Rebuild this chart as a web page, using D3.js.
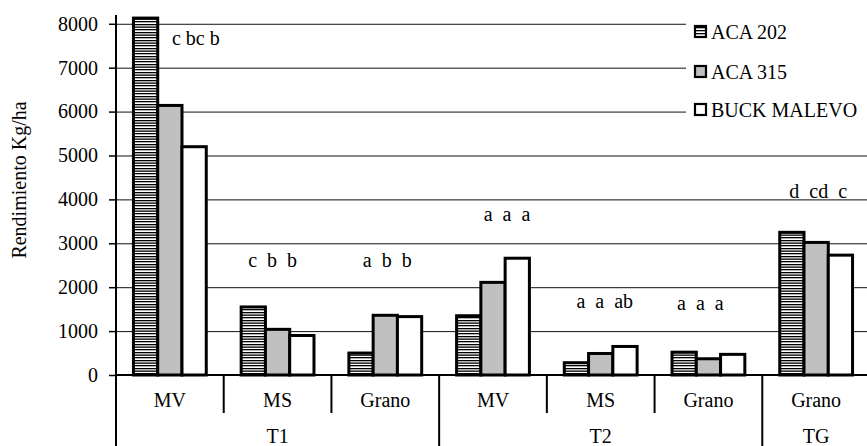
<!DOCTYPE html>
<html>
<head>
<meta charset="utf-8">
<script src="https://cdn.jsdelivr.net/npm/d3@7"></script>
<style>
  html, body { margin: 0; padding: 0; background: #fff; }
  svg { display: block; }
  svg text { font-family: "Liberation Serif", "Times New Roman", serif !important; white-space: pre; fill: #000; }
</style>
</head>
<body>
<svg id="chart" width="867" height="446"></svg>
<script>
// ---- data ----
const categories = ["MV", "MS", "Grano", "MV", "MS", "Grano", "Grano"];
const groups = ["T1", "T2", "TG"];
const groupOf = ["T1", "T1", "T1", "T2", "T2", "T2", "TG"];
const series = ["ACA 202", "ACA 315", "BUCK MALEVO"];
const aca202 = [8130, 1550, 500, 1350, 280, 520, 3250];
const aca315 = [6140, 1040, 1360, 2110, 490, 370, 3020];
const buck = [5200, 900, 1330, 2660, 650, 470, 2730];
const letters = ["c bc b", "c  b  b", "a  b  b", "a  a  a", "a  a  ab", "a  a  a", "d  cd  c"];
const letterY = [7520, 2460, 2460, 3515, 1535, 1480, 4040];
const yTicks = [0, 1000, 2000, 3000, 4000, 5000, 6000, 7000, 8000];

(function () {
// ---- layout ----
const svg = d3.select("#chart");
const pLeft = 116, pRight = 870, pTop = 15, base = 375;
const fs = 20;

const x = d3.scaleBand().domain(d3.range(categories.length)).range([pLeft, pRight]).padding(0);
const bw = x.bandwidth();
const pad = bw * 0.162;
const xs = d3.scaleBand().domain(series).range([pad, bw - pad]).padding(0);
const y = d3.scaleLinear().domain([0, 8200]).range([base, pTop]);

// patterns
const defs = svg.append("defs");
const pat = defs.append("pattern").attr("id", "stripes").attr("patternUnits", "userSpaceOnUse")
  .attr("width", 8).attr("height", 8);
pat.append("rect").attr("width", 8).attr("height", 8).attr("fill", "#fff");
[0, 2.5, 5].forEach(v => pat.append("rect").attr("x", 0).attr("y", v).attr("width", 8).attr("height", 1.3).attr("fill", "#000"));
const patS = defs.append("pattern").attr("id", "stripesSmall").attr("patternUnits", "userSpaceOnUse")
  .attr("width", 4).attr("height", 3);
patS.append("rect").attr("width", 4).attr("height", 3).attr("fill", "#fff");
patS.append("rect").attr("y", 0).attr("width", 4).attr("height", 1.3).attr("fill", "#000");

const fills = { "ACA 202": "url(#stripes)", "ACA 315": "#c0c0c0", "BUCK MALEVO": "#fff" };
const legendFills = { "ACA 202": "url(#stripesSmall)", "ACA 315": "#c0c0c0", "BUCK MALEVO": "#fff" };

// gridlines
svg.append("g").selectAll("line").data(yTicks.filter(d => d > 0)).join("line")
  .attr("x1", pLeft).attr("x2", 867).attr("y1", d => y(d) + 0.5).attr("y2", d => y(d) + 0.5)
  .attr("stroke", "#111").attr("stroke-width", 1);

// y axis
const yAxis = svg.append("g").attr("transform", `translate(${pLeft},0)`)
  .call(d3.axisLeft(y).tickValues(yTicks).tickFormat(d3.format("d")).tickSize(7).tickSizeOuter(0).tickPadding(11));
yAxis.select(".domain").remove();
yAxis.selectAll(".tick line").attr("stroke", "#000").attr("stroke-width", 1.5);
yAxis.selectAll("text").attr("font-size", fs).attr("fill", "#000");
svg.append("line").attr("x1", pLeft).attr("x2", pLeft).attr("y1", pTop).attr("y2", 446)
  .attr("stroke", "#000").attr("stroke-width", 2);

// y label
svg.append("text").attr("transform", `translate(26,${(97 + 263) / 2}) rotate(-90)`)
  .attr("text-anchor", "middle").attr("font-size", fs).text("Rendimiento Kg/ha");

// bars
const data = [aca202, aca315, buck];
const barG = svg.append("g");
series.forEach((s, si) => {
  barG.append("g").selectAll("rect").data(data[si]).join("rect")
    .attr("x", (d, i) => x(i) + xs(s))
    .attr("y", d => y(d))
    .attr("width", xs.bandwidth())
    .attr("height", d => base - y(d))
    .attr("fill", fills[s])
    .attr("stroke", "#000").attr("stroke-width", 3);
});

// x axis baseline
svg.append("line").attr("x1", pLeft).attr("x2", 867).attr("y1", base).attr("y2", base)
  .attr("stroke", "#000").attr("stroke-width", 2);

// category separators
const bounds = d3.range(categories.length + 1);
svg.append("g").selectAll("line").data(bounds).join("line")
  .attr("x1", i => (i < categories.length ? x(i) : pRight))
  .attr("x2", i => (i < categories.length ? x(i) : pRight))
  .attr("y1", base)
  .attr("y2", i => (i === 0 || i === categories.length || groupOf[i] !== groupOf[i - 1]) ? 446 : 413)
  .attr("stroke", "#000").attr("stroke-width", 2);

// category labels
svg.append("g").selectAll("text").data(categories).join("text")
  .attr("x", (d, i) => x(i) + bw / 2).attr("y", 407)
  .attr("text-anchor", "middle").attr("font-size", fs).text(d => d);

// group labels
svg.append("g").selectAll("text").data(groups).join("text")
  .attr("x", g => {
    const idx = groupOf.map((v, i) => v === g ? i : -1).filter(i => i >= 0);
    return (x(idx[0]) + x(idx[idx.length - 1]) + bw) / 2;
  })
  .attr("y", 443).attr("text-anchor", "middle").attr("font-size", fs).text(d => d);

// significance letters
const letterDx = [26, -5, 2, 14, 4, -8, 2];
svg.append("g").selectAll("text").data(letters).join("text")
  .attr("x", (d, i) => x(i) + bw / 2 + letterDx[i])
  .attr("y", (d, i) => y(letterY[i]))
  .attr("text-anchor", "middle").attr("font-size", fs).text(d => d);

// legend
const lg = svg.append("g");
lg.append("rect").attr("x", 686).attr("y", 14).attr("width", 190).attr("height", 116).attr("fill", "#fff");
const rowY = [32, 72, 110];
series.forEach((s, i) => {
  lg.append("rect").attr("x", 695).attr("y", rowY[i] - 6).attr("width", 11).attr("height", 11)
    .attr("fill", legendFills[s]).attr("stroke", "#000").attr("stroke-width", 2.2);
  lg.append("text").attr("x", 711).attr("y", rowY[i] + 7).attr("font-size", fs).text(s);
});
})();
</script>
</body>
</html>
